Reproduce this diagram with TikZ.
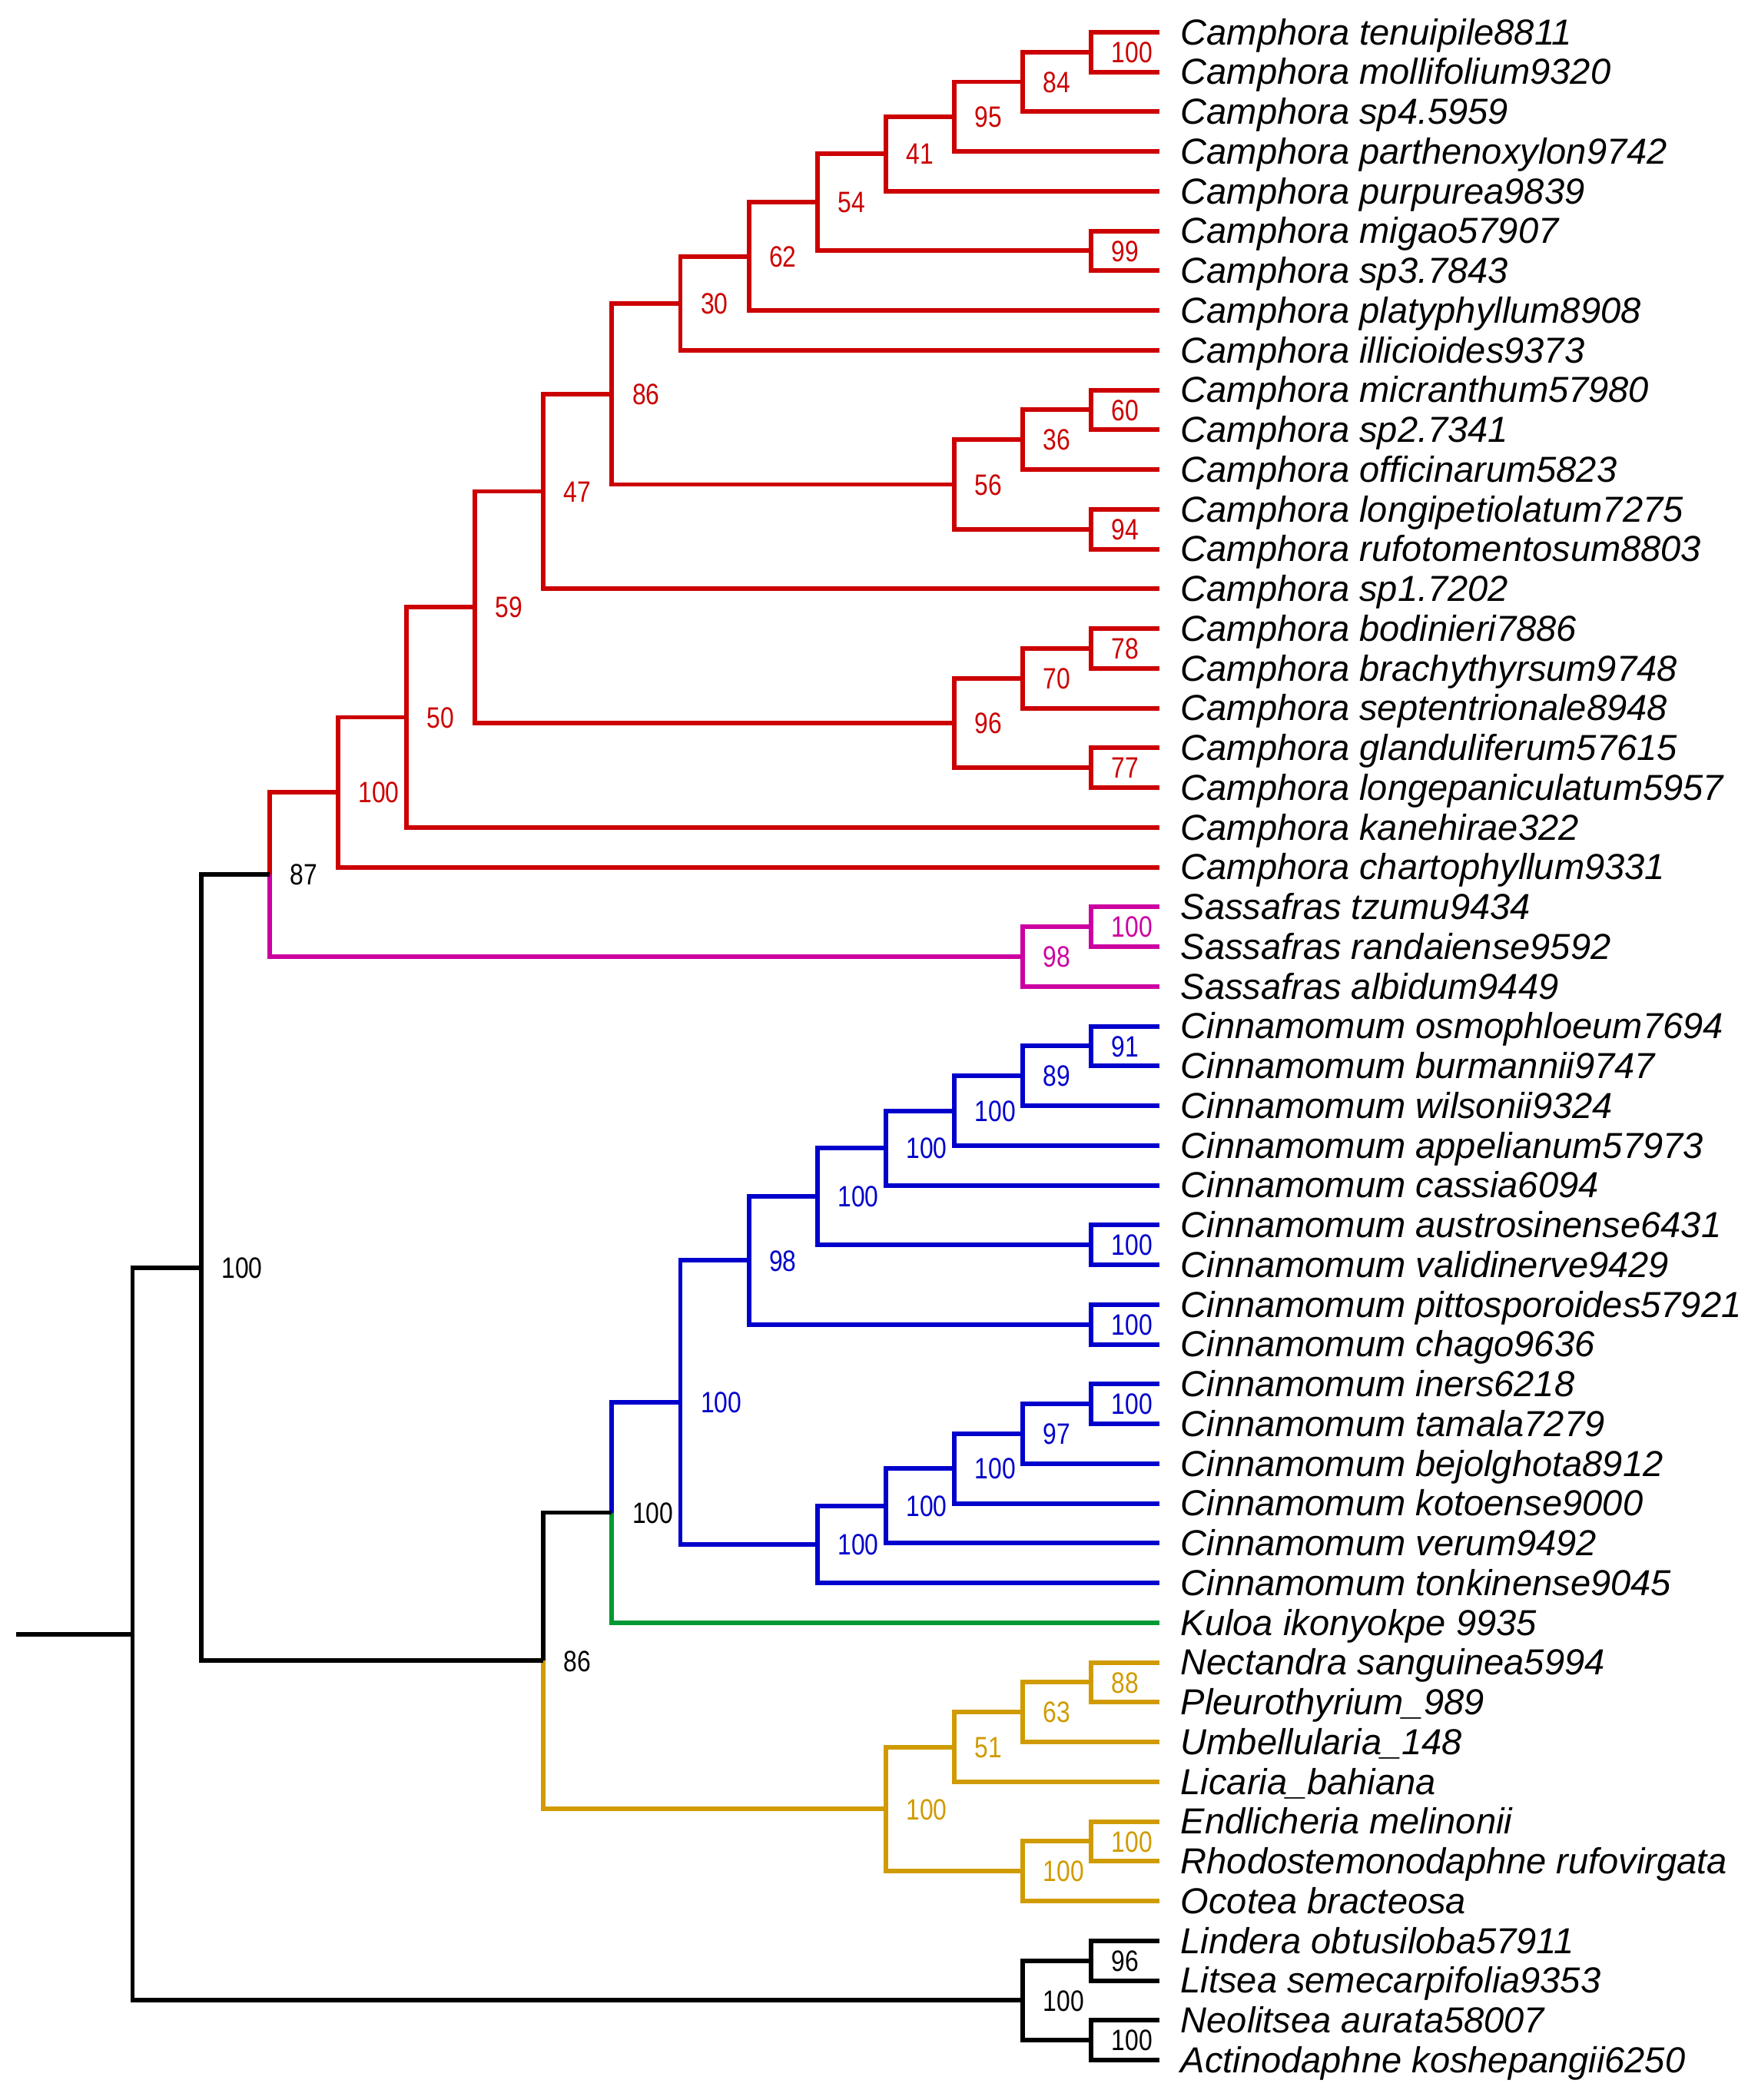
\documentclass[tikz,border=0pt]{standalone}
\usepackage{fontspec}
\setmainfont{Liberation Sans}
\newfontfamily\narrowfont[FakeStretch=0.83]{Liberation Sans}
\definecolor{camred}{RGB}{204,0,0}
\definecolor{sasmag}{RGB}{204,0,160}
\definecolor{cinblue}{RGB}{0,0,204}
\definecolor{kulgreen}{RGB}{0,153,51}
\definecolor{ocogold}{RGB}{208,155,0}
\tikzset{
  taxon/.style={anchor=base west, inner sep=0pt, xshift=7pt, yshift=-4.7pt,
    font=\itshape\fontsize{13.5}{16}\selectfont},
  support/.style={anchor=base west, inner sep=0pt, xshift=6.8pt, yshift=-3.9pt,
    font=\narrowfont\fontsize{11}{13}\selectfont},
}
\begin{document}
\begin{tikzpicture}[x=25.565pt, y=-14.845pt, line width=1.7pt]
\useasboundingbox (-1.936,0.192) rectangle (23.587,53.004);

% Tips and names
\path (15,1) coordinate (t1) node[taxon] (n1) {Camphora tenuipile8811};
\path (15,2) coordinate (t2) node[taxon] (n2) {Camphora mollifolium9320};
\path (15,3) coordinate (t3) node[taxon] (n3) {Camphora sp4.5959};
\path (15,4) coordinate (t4) node[taxon] (n4) {Camphora parthenoxylon9742};
\path (15,5) coordinate (t5) node[taxon] (n5) {Camphora purpurea9839};
\path (15,6) coordinate (t6) node[taxon] (n6) {Camphora migao57907};
\path (15,7) coordinate (t7) node[taxon] (n7) {Camphora sp3.7843};
\path (15,8) coordinate (t8) node[taxon] (n8) {Camphora platyphyllum8908};
\path (15,9) coordinate (t9) node[taxon] (n9) {Camphora illicioides9373};
\path (15,10) coordinate (t10) node[taxon] (n10) {Camphora micranthum57980};
\path (15,11) coordinate (t11) node[taxon] (n11) {Camphora sp2.7341};
\path (15,12) coordinate (t12) node[taxon] (n12) {Camphora officinarum5823};
\path (15,13) coordinate (t13) node[taxon] (n13) {Camphora longipetiolatum7275};
\path (15,14) coordinate (t14) node[taxon] (n14) {Camphora rufotomentosum8803};
\path (15,15) coordinate (t15) node[taxon] (n15) {Camphora sp1.7202};
\path (15,16) coordinate (t16) node[taxon] (n16) {Camphora bodinieri7886};
\path (15,17) coordinate (t17) node[taxon] (n17) {Camphora brachythyrsum9748};
\path (15,18) coordinate (t18) node[taxon] (n18) {Camphora septentrionale8948};
\path (15,19) coordinate (t19) node[taxon] (n19) {Camphora glanduliferum57615};
\path (15,20) coordinate (t20) node[taxon] (n20) {Camphora longepaniculatum5957};
\path (15,21) coordinate (t21) node[taxon] (n21) {Camphora kanehirae322};
\path (15,22) coordinate (t22) node[taxon] (n22) {Camphora chartophyllum9331};
\path (15,23) coordinate (t23) node[taxon] (n23) {Sassafras tzumu9434};
\path (15,24) coordinate (t24) node[taxon] (n24) {Sassafras randaiense9592};
\path (15,25) coordinate (t25) node[taxon] (n25) {Sassafras albidum9449};
\path (15,26) coordinate (t26) node[taxon] (n26) {Cinnamomum osmophloeum7694};
\path (15,27) coordinate (t27) node[taxon] (n27) {Cinnamomum burmannii9747};
\path (15,28) coordinate (t28) node[taxon] (n28) {Cinnamomum wilsonii9324};
\path (15,29) coordinate (t29) node[taxon] (n29) {Cinnamomum appelianum57973};
\path (15,30) coordinate (t30) node[taxon] (n30) {Cinnamomum cassia6094};
\path (15,31) coordinate (t31) node[taxon] (n31) {Cinnamomum austrosinense6431};
\path (15,32) coordinate (t32) node[taxon] (n32) {Cinnamomum validinerve9429};
\path (15,33) coordinate (t33) node[taxon] (n33) {Cinnamomum pittosporoides57921};
\path (15,34) coordinate (t34) node[taxon] (n34) {Cinnamomum chago9636};
\path (15,35) coordinate (t35) node[taxon] (n35) {Cinnamomum iners6218};
\path (15,36) coordinate (t36) node[taxon] (n36) {Cinnamomum tamala7279};
\path (15,37) coordinate (t37) node[taxon] (n37) {Cinnamomum bejolghota8912};
\path (15,38) coordinate (t38) node[taxon] (n38) {Cinnamomum kotoense9000};
\path (15,39) coordinate (t39) node[taxon] (n39) {Cinnamomum verum9492};
\path (15,40) coordinate (t40) node[taxon] (n40) {Cinnamomum tonkinense9045};
\path (15,41) coordinate (t41) node[taxon] (n41) {Kuloa ikonyokpe 9935};
\path (15,42) coordinate (t42) node[taxon] (n42) {Nectandra sanguinea5994};
\path (15,43) coordinate (t43) node[taxon] (n43) {Pleurothyrium\_989};
\path (15,44) coordinate (t44) node[taxon] (n44) {Umbellularia\_148};
\path (15,45) coordinate (t45) node[taxon] (n45) {Licaria\_bahiana};
\path (15,46) coordinate (t46) node[taxon] (n46) {Endlicheria melinonii};
\path (15,47) coordinate (t47) node[taxon] (n47) {Rhodostemonodaphne rufovirgata};
\path (15,48) coordinate (t48) node[taxon] (n48) {Ocotea bracteosa};
\path (15,49) coordinate (t49) node[taxon] (n49) {Lindera obtusiloba57911};
\path (15,50) coordinate (t50) node[taxon] (n50) {Litsea semecarpifolia9353};
\path (15,51) coordinate (t51) node[taxon] (n51) {Neolitsea aurata58007};
\path (15,52) coordinate (t52) node[taxon] (n52) {Actinodaphne koshepangii6250};

% Inner nodes of Camphora
\coordinate (c1) at (14,1.5);
\coordinate (c2) at (13,2.25);
\coordinate (c3) at (12,3.125);
\coordinate (c4) at (11,4.0625);
\coordinate (c5) at (14,6.5);
\coordinate (c6) at (10,5.28125);
\coordinate (c7) at (9,6.640625);
\coordinate (c8) at (8,7.8203);
\coordinate (c9) at (14,10.5);
\coordinate (c10) at (13,11.25);
\coordinate (c11) at (14,13.5);
\coordinate (c12) at (12,12.375);
\coordinate (c13) at (7,10.0977);
\coordinate (c14) at (6,12.5488);
\coordinate (c15) at (14,16.5);
\coordinate (c16) at (13,17.25);
\coordinate (c17) at (14,19.5);
\coordinate (c18) at (12,18.375);
\coordinate (c19) at (5,15.4619);
\coordinate (c20) at (4,18.2310);
\coordinate (c21) at (3,20.1155);
% Sassafras
\coordinate (s1) at (14,23.5);
\coordinate (s2) at (13,24.25);
% Cinnamomum
\coordinate (b1) at (14,26.5);
\coordinate (b2) at (13,27.25);
\coordinate (b3) at (12,28.125);
\coordinate (b4) at (11,29.0625);
\coordinate (b5) at (14,31.5);
\coordinate (b6) at (10,30.28125);
\coordinate (b7) at (14,33.5);
\coordinate (b8) at (9,31.890625);
\coordinate (b9) at (14,35.5);
\coordinate (b10) at (13,36.25);
\coordinate (b11) at (12,37.125);
\coordinate (b12) at (11,38.0625);
\coordinate (b13) at (10,39.03125);
\coordinate (b14) at (8,35.4609);
% Ocotea group
\coordinate (y1) at (14,42.5);
\coordinate (y2) at (13,43.25);
\coordinate (y3) at (12,44.125);
\coordinate (y4) at (14,46.5);
\coordinate (y5) at (13,47.25);
\coordinate (y6) at (11,45.6875);
% Outgroup and backbone
\coordinate (o1) at (14,49.5);
\coordinate (o2) at (14,51.5);
\coordinate (o3) at (13,50.5);
\coordinate (camsas) at (2,22.1827);
\coordinate (cinkul) at (7,38.2305);
\coordinate (cinoco) at (6,41.959);
\coordinate (ingroup) at (1,32.0709);
\coordinate (root) at (0,41.2854);
\coordinate (stem) at (-1.7,41.2854);

% Camphora branches
\draw[camred] (t1) -| (c1) |- (t2);
\draw[camred] (c1) -| (c2) |- (t3);
\draw[camred] (c2) -| (c3) |- (t4);
\draw[camred] (c3) -| (c4) |- (t5);
\draw[camred] (t6) -| (c5) |- (t7);
\draw[camred] (c4) -| (c6) |- (c5);
\draw[camred] (c6) -| (c7) |- (t8);
\draw[camred] (c7) -| (c8) |- (t9);
\draw[camred] (t10) -| (c9) |- (t11);
\draw[camred] (c9) -| (c10) |- (t12);
\draw[camred] (t13) -| (c11) |- (t14);
\draw[camred] (c10) -| (c12) |- (c11);
\draw[camred] (c8) -| (c13) |- (c12);
\draw[camred] (c13) -| (c14) |- (t15);
\draw[camred] (t16) -| (c15) |- (t17);
\draw[camred] (c15) -| (c16) |- (t18);
\draw[camred] (t19) -| (c17) |- (t20);
\draw[camred] (c16) -| (c18) |- (c17);
\draw[camred] (c14) -| (c19) |- (c18);
\draw[camred] (c19) -| (c20) |- (t21);
\draw[camred] (c20) -| (c21) |- (t22);

% Sassafras branches, joined to Camphora
\draw[sasmag] (t23) -| (s1) |- (t24);
\draw[sasmag] (s1) -| (s2) |- (t25);
\draw[camred] (c21) -| (camsas);
\draw[sasmag] (camsas) |- (s2);

% Cinnamomum branches and Kuloa
\draw[cinblue] (t26) -| (b1) |- (t27);
\draw[cinblue] (b1) -| (b2) |- (t28);
\draw[cinblue] (b2) -| (b3) |- (t29);
\draw[cinblue] (b3) -| (b4) |- (t30);
\draw[cinblue] (t31) -| (b5) |- (t32);
\draw[cinblue] (b4) -| (b6) |- (b5);
\draw[cinblue] (t33) -| (b7) |- (t34);
\draw[cinblue] (b6) -| (b8) |- (b7);
\draw[cinblue] (t35) -| (b9) |- (t36);
\draw[cinblue] (b9) -| (b10) |- (t37);
\draw[cinblue] (b10) -| (b11) |- (t38);
\draw[cinblue] (b11) -| (b12) |- (t39);
\draw[cinblue] (b12) -| (b13) |- (t40);
\draw[cinblue] (b8) -| (b14) |- (b13);
\draw[cinblue] (b14) -| (cinkul);
\draw[kulgreen] (cinkul) |- (t41);

% Ocotea group branches
\draw[ocogold] (t42) -| (y1) |- (t43);
\draw[ocogold] (y1) -| (y2) |- (t44);
\draw[ocogold] (y2) -| (y3) |- (t45);
\draw[ocogold] (t46) -| (y4) |- (t47);
\draw[ocogold] (y4) -| (y5) |- (t48);
\draw[ocogold] (y3) -| (y6) |- (y5);
\draw (cinkul) -| (cinoco);
\draw[ocogold] (cinoco) |- (y6);

% Backbone and outgroup
\draw (camsas) -| (ingroup) |- (cinoco);
\draw (t49) -| (o1) |- (t50);
\draw (t51) -| (o2) |- (t52);
\draw (o1) -| (o3) |- (o2);
\draw (ingroup) -| (root) |- (o3);
\draw (stem) -- (root);

% Support values
\node[support, camred] (lc1) at (c1) {100};
\node[support, camred] (lc2) at (c2) {84};
\node[support, camred] (lc3) at (c3) {95};
\node[support, camred] (lc4) at (c4) {41};
\node[support, camred] (lc5) at (c5) {99};
\node[support, camred] (lc6) at (c6) {54};
\node[support, camred] (lc7) at (c7) {62};
\node[support, camred] (lc8) at (c8) {30};
\node[support, camred] (lc9) at (c9) {60};
\node[support, camred] (lc10) at (c10) {36};
\node[support, camred] (lc11) at (c11) {94};
\node[support, camred] (lc12) at (c12) {56};
\node[support, camred] (lc13) at (c13) {86};
\node[support, camred] (lc14) at (c14) {47};
\node[support, camred] (lc15) at (c15) {78};
\node[support, camred] (lc16) at (c16) {70};
\node[support, camred] (lc17) at (c17) {77};
\node[support, camred] (lc18) at (c18) {96};
\node[support, camred] (lc19) at (c19) {59};
\node[support, camred] (lc20) at (c20) {50};
\node[support, camred] (lc21) at (c21) {100};
\node[support, sasmag] (ls1) at (s1) {100};
\node[support, sasmag] (ls2) at (s2) {98};
\node[support] (lcamsas) at (camsas) {87};
\node[support, cinblue] (lb1) at (b1) {91};
\node[support, cinblue] (lb2) at (b2) {89};
\node[support, cinblue] (lb3) at (b3) {100};
\node[support, cinblue] (lb4) at (b4) {100};
\node[support, cinblue] (lb5) at (b5) {100};
\node[support, cinblue] (lb6) at (b6) {100};
\node[support, cinblue] (lb7) at (b7) {100};
\node[support, cinblue] (lb8) at (b8) {98};
\node[support, cinblue] (lb9) at (b9) {100};
\node[support, cinblue] (lb10) at (b10) {97};
\node[support, cinblue] (lb11) at (b11) {100};
\node[support, cinblue] (lb12) at (b12) {100};
\node[support, cinblue] (lb13) at (b13) {100};
\node[support, cinblue] (lb14) at (b14) {100};
\node[support] (lcinkul) at (cinkul) {100};
\node[support, ocogold] (ly1) at (y1) {88};
\node[support, ocogold] (ly2) at (y2) {63};
\node[support, ocogold] (ly3) at (y3) {51};
\node[support, ocogold] (ly4) at (y4) {100};
\node[support, ocogold] (ly5) at (y5) {100};
\node[support, ocogold] (ly6) at (y6) {100};
\node[support] (lcinoco) at (cinoco) {86};
\node[support] (lingroup) at (ingroup) {100};
\node[support] (lo1) at (o1) {96};
\node[support] (lo2) at (o2) {100};
\node[support] (lo3) at (o3) {100};

\end{tikzpicture}
\end{document}
